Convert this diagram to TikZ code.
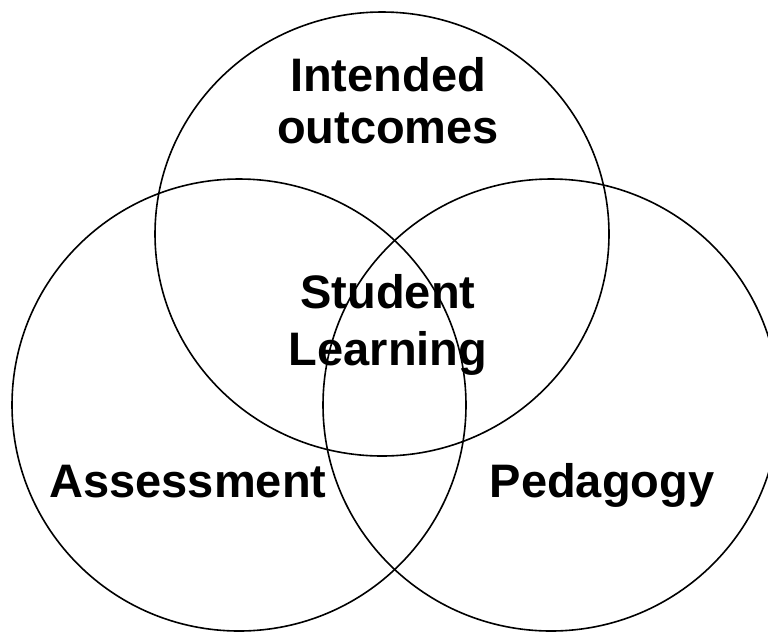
\documentclass[tikz,border=0pt]{standalone}
\usepackage{fontspec}
\setmainfont{Liberation Sans}
\begin{document}
\begin{tikzpicture}[x=1pt,y=-1pt,
  ring/.style={draw=black,line width=1.6pt},
  lbl/.style={font=\fontsize{47}{52}\selectfont\bfseries,inner sep=0pt,align=center,anchor=base}]
\useasboundingbox (0,0) rectangle (768,633);
\clip (0,0) rectangle (768,633);
\draw[ring] (382,234) ellipse [x radius=227, y radius=222];
\draw[ring] (239,405) ellipse [x radius=227, y radius=226];
\draw[ring] (551,405) ellipse [x radius=228, y radius=226];
\node[lbl] (io) at (388,143) {Intended\\outcomes};
\node[lbl] (sl) at (388,365) {Student\\[5pt]Learning};
\node[lbl] (as) at (188,497) {Assessment};
\node[lbl] (pe) at (602,497) {Pedagogy};
\end{tikzpicture}
\end{document}
